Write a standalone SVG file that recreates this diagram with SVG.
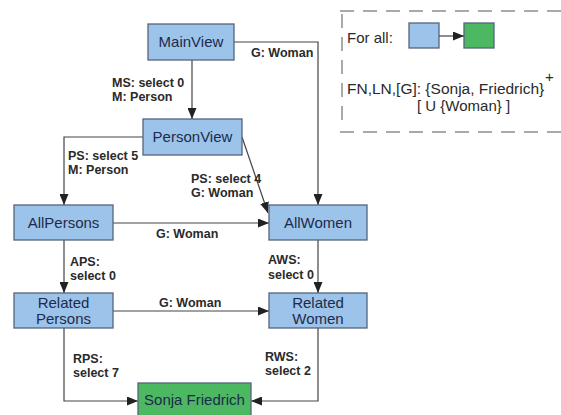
<svg xmlns="http://www.w3.org/2000/svg" width="561" height="415" viewBox="0 0 561 415">
<style>
.node{fill:#9cc3e9;stroke:#55647a;stroke-width:1.3}
.green{fill:#4cb862;stroke:#55647a;stroke-width:1.3}
.nt{font-family:"Liberation Sans",Arial,sans-serif;font-size:15px;fill:#1c2b4c;text-anchor:middle}
.el{font-family:"Liberation Sans",Arial,sans-serif;font-size:12.5px;font-weight:bold;fill:#2a2a2a}
.edge{fill:none;stroke:#444;stroke-width:1.2;marker-end:url(#arr)}
.lt{font-family:"Liberation Sans",Arial,sans-serif;font-size:15px;fill:#2a2a2a}
.dash{fill:none;stroke:#555;stroke-width:1;stroke-dasharray:14 9}
</style>
<defs>
<marker id="arr" markerUnits="userSpaceOnUse" markerWidth="12" markerHeight="9" refX="11" refY="4.5" orient="auto">
<path d="M0,0 L11,4.5 L0,9 z" fill="#222"/>
</marker>
</defs>
<rect width="561" height="415" fill="#fff"/>
<g id="connectors">
<path class="edge" d="M192,60 V119"/>
<path class="edge" d="M234,42 H318 V205"/>
<path class="edge" d="M143,137 H64 V205"/>
<path class="edge" d="M242,137 L268,213"/>
<path class="edge" d="M113,223 H269"/>
<path class="edge" d="M64,240 V293"/>
<path class="edge" d="M318,240 V293"/>
<path class="edge" d="M113,311 H269"/>
<path class="edge" d="M64,328 V401 H138"/>
<path class="edge" d="M318,328 V401 H251"/>
</g>
<g id="edge-labels">
<text class="el" x="251" y="57">G: Woman</text>
<text class="el" x="112" y="86.5">MS: select 0</text>
<text class="el" x="112" y="100.5">M: Person</text>
<text class="el" x="68" y="159.5">PS: select 5</text>
<text class="el" x="68" y="173.5">M: Person</text>
<text class="el" x="191" y="182.5">PS: select 4</text>
<text class="el" x="191" y="196.5">G: Woman</text>
<text class="el" x="156" y="238">G: Woman</text>
<text class="el" x="70" y="265.5">APS:</text>
<text class="el" x="70" y="280">select 0</text>
<text class="el" x="268" y="264">AWS:</text>
<text class="el" x="268" y="278.5">select 0</text>
<text class="el" x="159" y="307">G: Woman</text>
<text class="el" x="73" y="362.5">RPS:</text>
<text class="el" x="73" y="377">select 7</text>
<text class="el" x="265" y="360.5">RWS:</text>
<text class="el" x="265" y="375">select 2</text>
</g>
<g id="MainView"><rect class="node" x="148" y="24" width="86" height="36"/><text class="nt" x="191" y="47">MainView</text></g>
<g id="PersonView"><rect class="node" x="143" y="119" width="99" height="36"/><text class="nt" x="192.5" y="142">PersonView</text></g>
<g id="AllPersons"><rect class="node" x="14" y="205" width="99" height="35"/><text class="nt" x="63.5" y="228">AllPersons</text></g>
<g id="AllWomen"><rect class="node" x="269" y="205" width="98" height="35"/><text class="nt" x="318" y="228">AllWomen</text></g>
<g id="RelatedPersons"><rect class="node" x="14" y="293" width="99" height="35"/><text class="nt" x="63.5" y="308">Related</text><text class="nt" x="63.5" y="324">Persons</text></g>
<g id="RelatedWomen"><rect class="node" x="269" y="293" width="98" height="35"/><text class="nt" x="318" y="308">Related</text><text class="nt" x="318" y="324">Women</text></g>
<g id="SonjaFriedrich"><rect class="green" x="138" y="383" width="113" height="40"/><text class="nt" x="194.5" y="405">Sonja Friedrich</text></g>
<g id="legend">
<path class="dash" d="M340,11 H561"/>
<path class="dash" d="M340,132 H561"/>
<path class="dash" d="M342,14 V125"/>
<text class="lt" x="347" y="43">For all:</text>
<rect class="node" x="409" y="23" width="30" height="25"/>
<rect class="green" x="464" y="23" width="30" height="25"/>
<path class="edge" d="M439,36 H464"/>
<text class="lt" x="347" y="94" style="font-size:15.5px">FN,LN,[G]: {Sonja, Friedrich}</text>
<text class="lt" x="545" y="82">+</text>
<text class="lt" x="417" y="111">[ U {Woman} ]</text>
</g>
</svg>
